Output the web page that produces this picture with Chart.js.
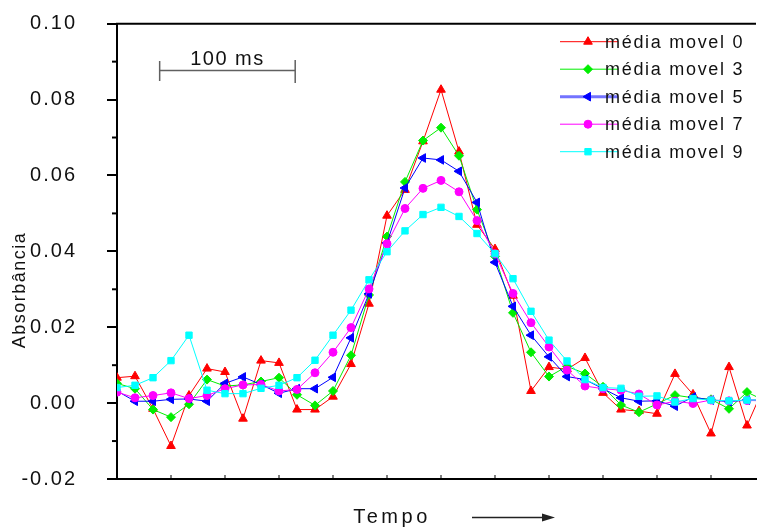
<!DOCTYPE html>
<html>
<head>
<meta charset="utf-8">
<script src="https://cdn.jsdelivr.net/npm/chart.js@4.4.1/dist/chart.umd.min.js"></script>
<style>
  body { margin: 0; background: #fff; }
  #wrap { width: 762px; height: 527px; }
</style>
</head>
<body>
<div id="wrap"><canvas id="grafico"></canvas></div>
<script>
const legendas = ['média movel 0', 'média movel 3', 'média movel 5', 'média movel 7', 'média movel 9'];

// absorbancia por amostra (uma a cada ~13 ms)
const movel0 = [0.0067, 0.0071, -0.0015, -0.0113, 0.0020, 0.0091, 0.0082, -0.0041, 0.0112, 0.0106,
  -0.0017, -0.0017, 0.0017, 0.0103, 0.0262, 0.0494, 0.0562, 0.0690, 0.0826, 0.0663,
  0.0470, 0.0406, 0.0283, 0.0032, 0.0095, 0.0089, 0.0119, 0.0027, -0.0017, -0.0021,
  -0.0028, 0.0077, 0.0023, -0.0080, 0.0095, -0.0059, 0.0049];
const movel3 = [0.0052, 0.0038, -0.0017, -0.0037, -0.0003, 0.0062, 0.0045, 0.0048, 0.0057, 0.0067,
  0.0022, -0.0006, 0.0032, 0.0126, 0.0285, 0.0439, 0.0583, 0.0692, 0.0726, 0.0652,
  0.0510, 0.0387, 0.0238, 0.0134, 0.0070, 0.0097, 0.0078, 0.0043, -0.0005, -0.0024,
  -0.0002, 0.0021, 0.0014, 0.0010, -0.0015, 0.0029, 0.0006];
const movel5 = [0.0032, 0.0005, 0.0005, 0.0010, 0.0011, 0.0005, 0.0052, 0.0069, 0.0049, 0.0026,
  0.0038, 0.0038, 0.0068, 0.0172, 0.0288, 0.0422, 0.0567, 0.0646, 0.0641, 0.0611,
  0.0529, 0.0371, 0.0255, 0.0179, 0.0122, 0.0070, 0.0062, 0.0038, 0.0014, 0.0005,
  0.0006, -0.0008, 0.0016, 0.0008, 0.0004, 0.0008, 0.0008];
const movel7 = [0.0029, 0.0014, 0.0020, 0.0027, 0.0012, 0.0020, 0.0038, 0.0048, 0.0049, 0.0032,
  0.0036, 0.0080, 0.0134, 0.0199, 0.0301, 0.0420, 0.0513, 0.0566, 0.0587, 0.0557,
  0.0481, 0.0394, 0.0289, 0.0212, 0.0148, 0.0087, 0.0045, 0.0038, 0.0034, 0.0024,
  -0.0005, 0.0005, -0.0001, 0.0008, 0.0006, 0.0007, 0.0006];
const movel9 = [0.0041, 0.0047, 0.0067, 0.0112, 0.0179, 0.0034, 0.0025, 0.0025, 0.0039, 0.0047,
  0.0067, 0.0113, 0.0179, 0.0245, 0.0325, 0.0399, 0.0454, 0.0497, 0.0516, 0.0492,
  0.0447, 0.0394, 0.0328, 0.0242, 0.0166, 0.0111, 0.0062, 0.0041, 0.0039, 0.0018,
  0.0019, 0.0003, 0.0012, 0.0008, 0.0006, 0.0008, 0.0008];
const amostras = movel0.map((_, i) => i);

const cores = ['#ff0000', '#00ee00', '#0000ff', '#ff00ff', '#00ffff'];
const marcadores = ['triangle', 'rectRot', 'triangle', 'circle', 'rect'];
const giros = [0, 0, -90, 0, 0];
const raios = [5, 4.5, 5, 4, 4.5];
const series = [movel0, movel3, movel5, movel7, movel9];

const fonte = '"Liberation Sans", Arial, sans-serif';

function marca(ctx, i, x, y) {
  ctx.fillStyle = cores[i];
  ctx.strokeStyle = cores[i];
  ctx.lineWidth = 1;
  Chart.helpers.drawPoint(ctx, {pointStyle: marcadores[i], rotation: giros[i], radius: raios[i], borderWidth: 1}, x, y);
}

const enfeites = {
  id: 'enfeites',
  beforeDraw(chart) {
    chart.ctx.letterSpacing = '2px';
  },
  afterDraw(chart) {
    const {ctx, chartArea: a, scales: {x, y}} = chart;
    ctx.save();
    const linha = (x1, y1, x2, y2) => { ctx.beginPath(); ctx.moveTo(x1, y1); ctx.lineTo(x2, y2); ctx.stroke(); };

    // moldura de cima
    ctx.strokeStyle = '#000';
    ctx.lineWidth = 2;
    linha(a.left - 1, a.top, a.right, a.top);
    // ticks menores do eixo y
    for (let k = 0; k < 6; k++) {
      const py = y.getPixelForValue(-0.01 + 0.02 * k);
      linha(a.left - 5, py, a.left, py);
    }
    // ticks do eixo x, para dentro
    ctx.lineWidth = 1;
    for (let t = 3; t < x.max; t += 3) {
      const px = x.getPixelForValue(t);
      linha(px, a.bottom, px, a.bottom - 4);
    }

    // barra de escala 100 ms
    const b1 = x.getPixelForValue(2.37), b2 = x.getPixelForValue(9.9);
    ctx.strokeStyle = '#606060';
    ctx.lineWidth = 1.5;
    linha(b1, 70.5, b2, 70.5);
    linha(b1, 61, b1, 81);
    linha(b2, 60, b2, 83);
    ctx.fillStyle = '#111';
    ctx.font = '20px ' + fonte;
    ctx.letterSpacing = '1.5px';
    ctx.textAlign = 'center';
    ctx.textBaseline = 'alphabetic';
    ctx.fillText('100 ms', (b1 + b2) / 2, 65);

    // titulo y
    ctx.save();
    ctx.translate(20, 290);
    ctx.rotate(-Math.PI / 2);
    ctx.font = '18px ' + fonte;
    ctx.textBaseline = 'middle';
    ctx.fillText('Absorbância', 0, 0);
    ctx.restore();

    // titulo x com seta
    ctx.font = '20px ' + fonte;
    ctx.letterSpacing = '3.5px';
    ctx.textBaseline = 'alphabetic';
    ctx.fillText('Tempo', 392, 523);
    ctx.strokeStyle = '#222';
    ctx.lineWidth = 1.5;
    linha(472, 517.5, 545, 517.5);
    ctx.fillStyle = '#222';
    ctx.beginPath();
    ctx.moveTo(555, 517.5); ctx.lineTo(542, 513.5); ctx.lineTo(542, 521.5); ctx.closePath(); ctx.fill();

    // legenda
    ctx.font = '18px ' + fonte;
    ctx.letterSpacing = '1.7px';
    ctx.textAlign = 'left';
    ctx.textBaseline = 'middle';
    legendas.forEach((txt, i) => {
      const py = 41.7 + 27.5 * i;
      if (i === 2) { ctx.strokeStyle = 'rgba(90,90,255,0.85)'; ctx.lineWidth = 3; }
      else { ctx.strokeStyle = cores[i]; ctx.lineWidth = 1; }
      linha(560, py, 618, py);
      marca(ctx, i, 588, py);
      ctx.fillStyle = '#111';
      ctx.fillText(txt, 605, py + 1);
    });
    ctx.restore();
  }
};

new Chart(document.getElementById('grafico'), {
  type: 'line',
  data: {
    labels: amostras,
    datasets: series.map((d, i) => ({
      label: legendas[i],
      data: d,
      borderColor: cores[i],
      backgroundColor: cores[i],
      borderWidth: 1,
      pointStyle: marcadores[i],
      rotation: giros[i],
      pointRadius: raios[i],
      pointBorderWidth: 1,
      tension: 0,
      order: 5 - i
    }))
  },
  options: {
    responsive: true,
    maintainAspectRatio: false,
    animation: false,
    layout: { padding: { top: 23.7, right: 0, left: 0, bottom: 0 } },
    plugins: {
      legend: { display: false },
      tooltip: { enabled: false }
    },
    scales: {
      x: {
        type: 'linear',
        min: 0,
        max: 35.5,
        ticks: { display: false },
        grid: { display: false },
        border: { display: true, color: '#000', width: 2 },
        afterFit: (s) => { s.height = 48; s.paddingLeft = 0; s.paddingRight = 0; }
      },
      y: {
        min: -0.02,
        max: 0.10,
        ticks: {
          stepSize: 0.02,
          padding: 30,
          color: '#111',
          font: { family: fonte, size: 20 },
          callback: (v) => Number(v).toFixed(2)
        },
        grid: { drawOnChartArea: false, drawTicks: true, tickLength: 10, color: '#000', lineWidth: 2 },
        border: { display: true, color: '#000', width: 2 },
        afterFit: (s) => { s.width = 117; s.paddingTop = 0; s.paddingBottom = 0; }
      }
    }
  },
  plugins: [enfeites]
});
</script>
</body>
</html>
